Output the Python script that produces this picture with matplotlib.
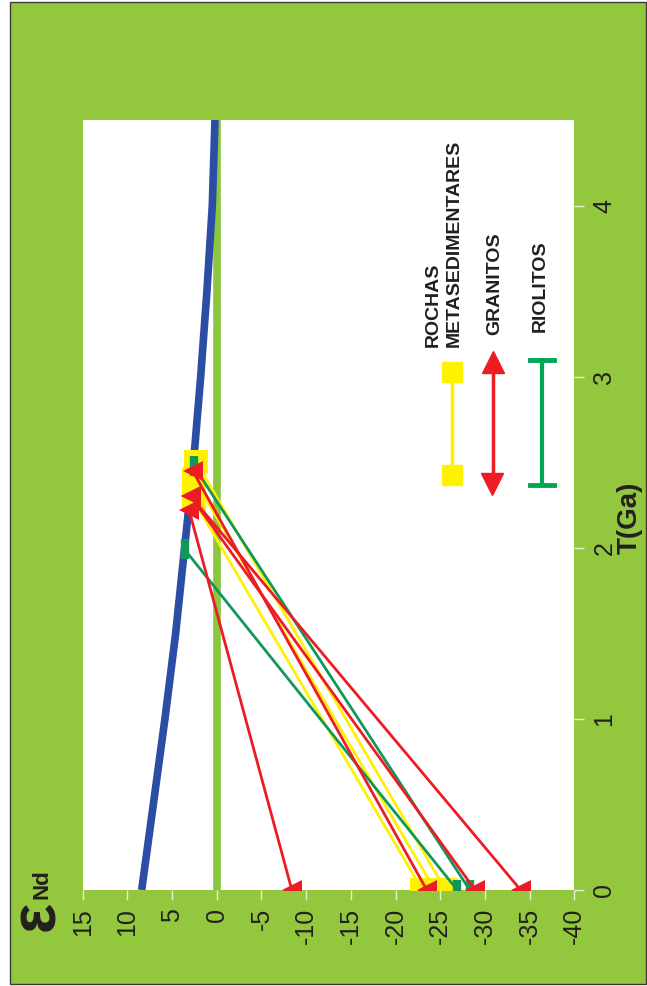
import matplotlib
matplotlib.use("Agg")
import matplotlib.pyplot as plt
from matplotlib.patches import Rectangle
from matplotlib.lines import Line2D

plt.rcParams['font.family'] = ['Liberation Sans', 'DejaVu Sans']

# ---------------- data ----------------
# depleted mantle evolution curve (T in Ga, eNd)
dm_T = [0.0, 0.5, 1.0, 1.5, 2.0, 2.5, 3.0, 3.5, 4.0, 4.5]
dm_eps = [8.4, 7.1, 5.8, 4.6, 3.6, 2.6, 1.8, 1.1, 0.5, 0.2]

# Rochas metassedimentares: T_DM, eNd at T_DM, eNd(0)
meta_T = [2.28, 2.40, 2.50]
meta_eps_dm = [2.6, 2.5, 2.3]
meta_eps0 = [-23.0, -24.4, -25.6]

# Granitos
gran_T = [2.22, 2.30, 2.45, 2.30]
gran_eps_dm = [3.1, 2.9, 2.7, 2.9]
gran_eps0 = [-8.4, -34.0, -23.5, -28.9]

# Riolitos
riol_T = [2.48, 1.99]
riol_eps_dm = [2.6, 3.6]
riol_eps0 = [-28.3, -26.9]

eps_ticks = [15, 10, 5, 0, -5, -10, -15, -20, -25, -30, -35, -40]
eps_labels = ['15', '10', '5', '0', '-5', '-10', '-15', '-20', '-25', '-30', '-35', '-40']
t_ticks = [0, 1, 2, 3, 4]
t_labels = ['0', '1', '2', '3', '4']

# ---------------- style ----------------
W, H = 647, 986
BG = '#93C83E'
YEL = '#FFF200'
RED = '#ED1C24'
GRN = '#10985A'
GRN_LEG = '#00A651'
BLUE = '#2C4DA6'
ZERO = '#8CC63F'
TXT = '#231F20'


def fx(x):
    return x / W


def fy(y):
    return 1 - y / H


fig = plt.figure(figsize=(W / 100, H / 100), dpi=100)
fig.patch.set_facecolor('white')
fig.add_artist(Rectangle((fx(10), fy(984)), fx(646) - fx(10), fy(2) - fy(984),
                         transform=fig.transFigure, facecolor=BG,
                         edgecolor='#3a3a3a', lw=1.0, zorder=-1))

ax = fig.add_axes([fx(82.7), fy(890), fx(574.3) - fx(82.7), fy(120) - fy(890)])
ax.set_facecolor('white')
for s in ax.spines.values():
    s.set_visible(False)
ax.set_xlim(15, -40)
ax.set_ylim(0, 4.5)

ax.set_xticks(eps_ticks)
ax.set_xticklabels(eps_labels, rotation=90, va='top', ha='center')
ax.yaxis.tick_right()
ax.set_yticks(t_ticks)
ax.set_yticklabels(t_labels, rotation=90, va='center', ha='left')
ax.tick_params(axis='both', direction='out', length=7, width=1,
               color='#E6EFD6', labelsize=18, labelcolor=TXT, pad=6)

# zero line and DM curve
ax.axvline(0, color=ZERO, lw=5.5, zorder=1)
ax.plot(dm_eps, dm_T, color=BLUE, lw=5.5, solid_capstyle='butt', zorder=2)


def draw(Ts, edm, e0, color, marker, ms, mew, mfc, z):
    for t, a, b in zip(Ts, edm, e0):
        ax.plot([a, b], [t, 0], color=color, lw=2.0, zorder=z)
        ax.plot([a, b], [t, 0], ls='none', marker=marker, ms=ms,
                mfc=mfc, mec=mfc, mew=mew, zorder=z + 0.5)


draw(meta_T, meta_eps_dm, meta_eps0, YEL, 's', 17, 0, YEL, 3)
draw(riol_T, riol_eps_dm, riol_eps0, GRN, '|', 15, 6, GRN, 4)
draw(gran_T, gran_eps_dm, gran_eps0, RED, '<', 14, 0, RED, 5)

# axis labels
fig.text(fx(630), fy(518), 'T(Ga)', rotation=90, ha='center', va='center',
         fontsize=20, fontweight='bold', color=TXT)
fig.text(fx(37), fy(916), 'ε', rotation=90, ha='center', va='center',
         fontsize=46, fontweight='bold', color=TXT)
fig.text(fx(42), fy(884), 'Nd', rotation=90, ha='center', va='center',
         fontsize=16, fontweight='bold', color=TXT)

# legend (drawn manually, vertical)
fig.text(fx(433.5), fy(347), 'ROCHAS', rotation=90, ha='center', va='bottom',
         fontsize=14, fontweight='bold', color=TXT)
fig.text(fx(454.5), fy(347), 'METASEDIMENTARES', rotation=90, ha='center',
         va='bottom', fontsize=14, fontweight='bold', color=TXT)
fig.text(fx(494.5), fy(335), 'GRANITOS', rotation=90, ha='center', va='bottom',
         fontsize=14, fontweight='bold', color=TXT)
fig.text(fx(540), fy(332), 'RIOLITOS', rotation=90, ha='center', va='bottom',
         fontsize=14, fontweight='bold', color=TXT)

tf = fig.transFigure
fig.add_artist(Line2D([fx(452), fx(452)], [fy(372), fy(475)], color=YEL, lw=2.5, transform=tf))
fig.add_artist(Line2D([fx(452), fx(452)], [fy(372), fy(475)], ls='none', marker='s',
                      ms=15, mfc=YEL, mec=YEL, transform=tf))
fig.add_artist(Line2D([fx(493), fx(493)], [fy(364), fy(482)], color=RED, lw=2.5, transform=tf))
fig.add_artist(Line2D([fx(493)], [fy(362)], ls='none', marker='^', ms=16,
                      mfc=RED, mec=RED, transform=tf))
fig.add_artist(Line2D([fx(492)], [fy(484)], ls='none', marker='v', ms=16,
                      mfc=RED, mec=RED, transform=tf))
fig.add_artist(Line2D([fx(542), fx(542)], [fy(360), fy(485)], color=GRN_LEG, lw=3, transform=tf))
fig.add_artist(Line2D([fx(530), fx(554)], [fy(360), fy(360)], color=GRN_LEG, lw=3.5, transform=tf))
fig.add_artist(Line2D([fx(530), fx(554)], [fy(485), fy(485)], color=GRN_LEG, lw=3.5, transform=tf))

fig.savefig('out.png', dpi=100, facecolor=fig.get_facecolor())
